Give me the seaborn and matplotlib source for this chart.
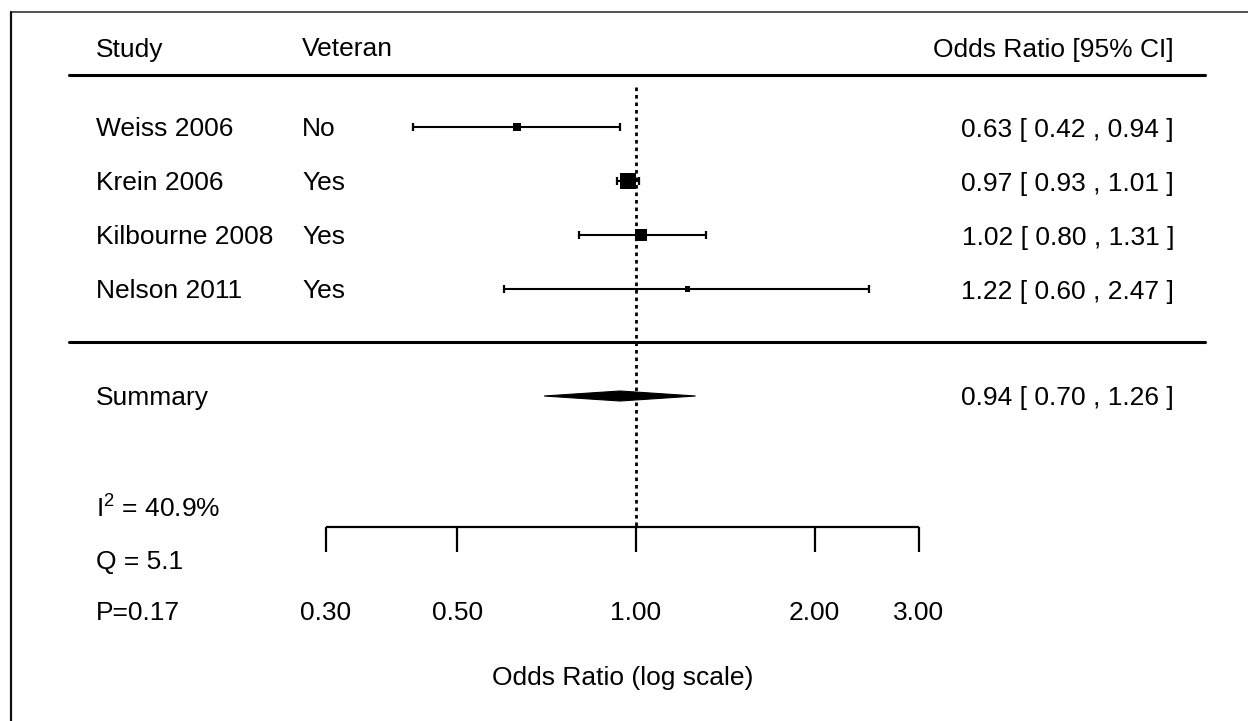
import numpy as np
import pandas as pd
import matplotlib
matplotlib.use("Agg")
import matplotlib.pyplot as plt
import matplotlib.transforms as mtransforms
from matplotlib.lines import Line2D
import seaborn as sns

# ---------------- data ----------------
studies = ["Weiss 2006", "Krein 2006", "Kilbourne 2008", "Nelson 2011"]
veteran = ["No", "Yes", "Yes", "Yes"]
odds_ratio = [0.63, 0.97, 1.02, 1.22]
ci_low = [0.42, 0.93, 0.80, 0.60]
ci_high = [0.94, 1.01, 1.31, 2.47]
weights = [0.44, 1.00, 0.69, 0.31]          # relative study weights (square size)
summary_or = 0.94
summary_low = 0.70
summary_high = 1.26
i2_text = "40.9%"
q_text = "5.1"
p_text = "0.17"
tick_values = [0.30, 0.50, 1.00, 2.00, 3.00]
tick_labels = ["0.30", "0.50", "1.00", "2.00", "3.00"]

# ---------------- style ----------------
sns.set_style("white")
plt.rcParams["font.family"] = ["Liberation Sans", "DejaVu Sans"]
plt.rcParams["mathtext.fontset"] = "custom"
plt.rcParams["mathtext.rm"] = "Liberation Sans"
plt.rcParams["text.color"] = "black"
FS = 19

W, H = 1248, 721
fig = plt.figure(figsize=(W / 100, H / 100), dpi=100)
ax = fig.add_axes([0, 0, 1, 1])
ax.set_xscale("log")
px_per_dec = 593.0
x0 = 636.0
ax.set_xlim(10 ** (-x0 / px_per_dec), 10 ** ((W - x0) / px_per_dec))
ax.set_ylim(H, 0)
ax.axis("off")

# layout (pixel rows)
row_y = [127, 181, 235, 289]
header_y = 47
header_line_y = 75
sep_y = 342
summary_y = 396
stats_y = [507, 559, 610]
axis_y = 527
tick_len = 25
ticklab_y = 610
xlabel_y = 676

trans = mtransforms.blended_transform_factory(ax.transAxes, ax.transData)
col_study = 96 / W
col_vet = 302 / W
col_right = 1174 / W
line_l = 69 / W
line_r = 1205 / W
VA = "center_baseline"

# frame (partial border as in the image)
fig.add_artist(Line2D([11 / W, 1.0], [1 - 12 / H, 1 - 12 / H], color="#333333", lw=1.2))
fig.add_artist(Line2D([11 / W, 11 / W], [0, 1 - 12 / H], color="#111111", lw=1.6))

# header
ax.text(col_study, header_y, "Study", transform=trans, fontsize=FS, va=VA, ha="left")
ax.text(col_vet, header_y, "Veteran", transform=trans, fontsize=FS, va=VA, ha="left")
ax.text(col_right, header_y, "Odds Ratio [95% CI]", transform=trans, fontsize=FS, va=VA, ha="right")
ax.plot([line_l, line_r], [header_line_y, header_line_y], transform=trans, color="black", lw=2.2)
ax.plot([line_l, line_r], [sep_y, sep_y], transform=trans, color="black", lw=2.2)

# reference line at OR = 1
ax.vlines(1.0, header_line_y + 12, axis_y, colors="black", lw=2.0, linestyles=(0, (1.3, 1.4)))

# study rows
df = pd.DataFrame({"study": studies, "vet": veteran, "or": odds_ratio,
                   "lo": ci_low, "hi": ci_high, "w": weights, "y": row_y})
ax.errorbar(df["or"], df["y"],
            xerr=[df["or"] - df["lo"], df["hi"] - df["or"]],
            fmt="none", ecolor="black", elinewidth=1.5, capsize=2.8, capthick=1.6)
sns.scatterplot(data=df, x="or", y="y", size="w", sizes=(14, 140), marker="s",
                color="black", edgecolor="black", linewidth=0, legend=False, ax=ax, zorder=5)
ax.set_xlabel("")
ax.set_ylabel("")
for _, r in df.iterrows():
    ax.text(col_study, r["y"], r["study"], transform=trans, fontsize=FS, va=VA, ha="left")
    ax.text(col_vet, r["y"], r["vet"], transform=trans, fontsize=FS, va=VA, ha="left")
    ax.text(col_right, r["y"], f"{r['or']:.2f} [ {r['lo']:.2f} , {r['hi']:.2f} ]",
            transform=trans, fontsize=FS, va=VA, ha="right")

# summary diamond
dh = 5.0
ax.fill([summary_low, summary_or, summary_high, summary_or],
        [summary_y, summary_y - dh, summary_y, summary_y + dh],
        color="black", lw=0.8, ec="black")
ax.text(col_study, summary_y, "Summary", transform=trans, fontsize=FS, va=VA, ha="left")
ax.text(col_right, summary_y, f"{summary_or:.2f} [ {summary_low:.2f} , {summary_high:.2f} ]",
        transform=trans, fontsize=FS, va=VA, ha="right")

# heterogeneity stats
ax.text(col_study, stats_y[0], r"$\mathregular{I^2}$ = " + i2_text, transform=trans,
        fontsize=FS, va=VA, ha="left")
ax.text(col_study, stats_y[1], "Q = " + q_text, transform=trans, fontsize=FS, va=VA, ha="left")
ax.text(col_study, stats_y[2], "P=" + p_text, transform=trans, fontsize=FS, va=VA, ha="left")

# custom x axis
ax.hlines(axis_y, tick_values[0], tick_values[-1], colors="black", lw=1.6)
ax.vlines(tick_values, axis_y, axis_y + tick_len, colors="black", lw=1.6)
for v, lab in zip(tick_values, tick_labels):
    ax.text(v, ticklab_y, lab, fontsize=FS, va=VA, ha="center")
xmid = np.sqrt(tick_values[0] * tick_values[-1])
ax.text(xmid, xlabel_y, "Odds Ratio (log scale)", fontsize=FS, va=VA, ha="center")

fig.savefig("out.png", dpi=100, facecolor="white")
